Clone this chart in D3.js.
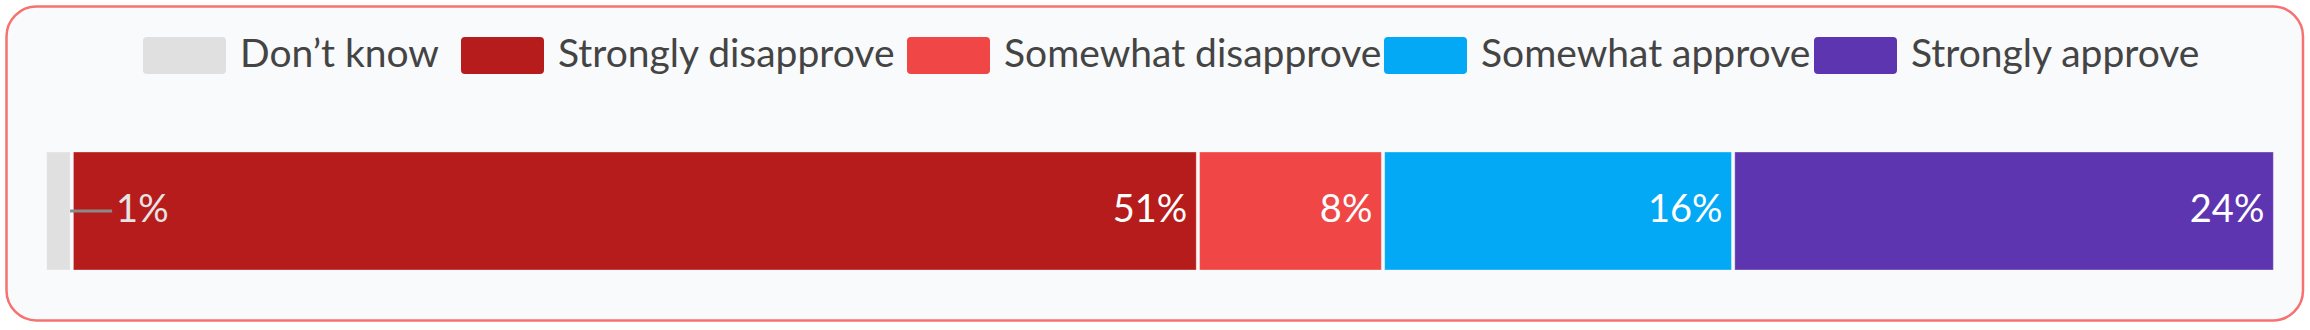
<!DOCTYPE html>
<html>
<head>
<meta charset="utf-8">
<script src="https://cdn.jsdelivr.net/npm/d3@7"></script>
<style>
  html, body { margin: 0; padding: 0; background: #ffffff; }
  svg { display: block; font-family: Lato, "Open Sans", sans-serif; }
</style>
</head>
<body>
<script>
// data
const categories = ["Don’t know", "Strongly disapprove", "Somewhat disapprove", "Somewhat approve", "Strongly approve"];
const values = [1.2, 50.5, 8.3, 15.7, 24.3];
const colors = ["#e0e0e0", "#b71c1c", "#f04646", "#03a9f4", "#5e35b1"];
const labels = ["1%", "51%", "8%", "16%", "24%"];

// layout
const width = 2310, height = 330;
const legendX = [143, 461, 907, 1384, 1814];

const svg = d3.select("body").append("svg")
    .attr("width", width)
    .attr("height", height);

// card
svg.append("rect")
    .attr("x", 6.5).attr("y", 6.5)
    .attr("width", 2296.5).attr("height", 314)
    .attr("rx", 30).attr("ry", 30)
    .attr("fill", "#f8fafc")
    .attr("stroke", "#f87171")
    .attr("stroke-width", 2.5);

// legend
const legend = svg.append("g").selectAll("g")
    .data(categories)
    .enter()
    .append("g")
    .attr("transform", (d, i) => `translate(${legendX[i]}, 0)`);

legend.append("rect")
    .attr("x", 0).attr("y", 37)
    .attr("width", 83).attr("height", 37)
    .attr("rx", 4)
    .attr("fill", (d, i) => colors[i]);

legend.append("text")
    .attr("x", 97).attr("y", 66.5)
    .attr("font-size", 39)
    .attr("fill", "#444444")
    .text(d => d);

// stacked data
let acc = 0;
const stack = values.map((v, i) => {
    const s = { key: categories[i], start: acc, end: acc + v, label: labels[i], color: colors[i] };
    acc += v;
    return s;
});

const x = d3.scaleLinear().domain([0, 100]).range([45, 2275]);
const y = d3.scaleBand().domain(["All"]).range([152, 270]).padding(0);

const gap = 1.65;

svg.append("g").selectAll("rect")
    .data(stack)
    .enter()
    .append("rect")
    .attr("x", d => x(d.start) + gap)
    .attr("y", y("All"))
    .attr("width", d => x(d.end) - x(d.start) - 2 * gap)
    .attr("height", y.bandwidth())
    .attr("fill", d => d.color)
    .attr("stroke", "rgba(255,255,255,0.35)")
    .attr("stroke-width", 1);

const midY = y("All") + y.bandwidth() / 2;

// labels
stack.forEach((d, i) => {
    const segW = x(d.end) - x(d.start);
    if (segW > 100) {
        svg.append("text")
            .attr("x", x(d.end) - gap - 9)
            .attr("y", midY + 11)
            .attr("text-anchor", "end")
            .attr("font-size", 38)
            .attr("fill", "#ffffff")
            .text(d.label);
    } else {
        // small segment: leader line + label
        const x0 = x(d.end) - gap;
        svg.append("line")
            .attr("x1", x0).attr("x2", x0 + 42)
            .attr("y1", midY).attr("y2", midY)
            .attr("stroke", "#8a8a8a")
            .attr("stroke-width", 3);
        svg.append("text")
            .attr("x", x0 + 46)
            .attr("y", midY + 11)
            .attr("font-size", 38)
            .attr("fill", "#e4e4e4")
            .text(d.label);
    }
});
</script>
</body>
</html>
